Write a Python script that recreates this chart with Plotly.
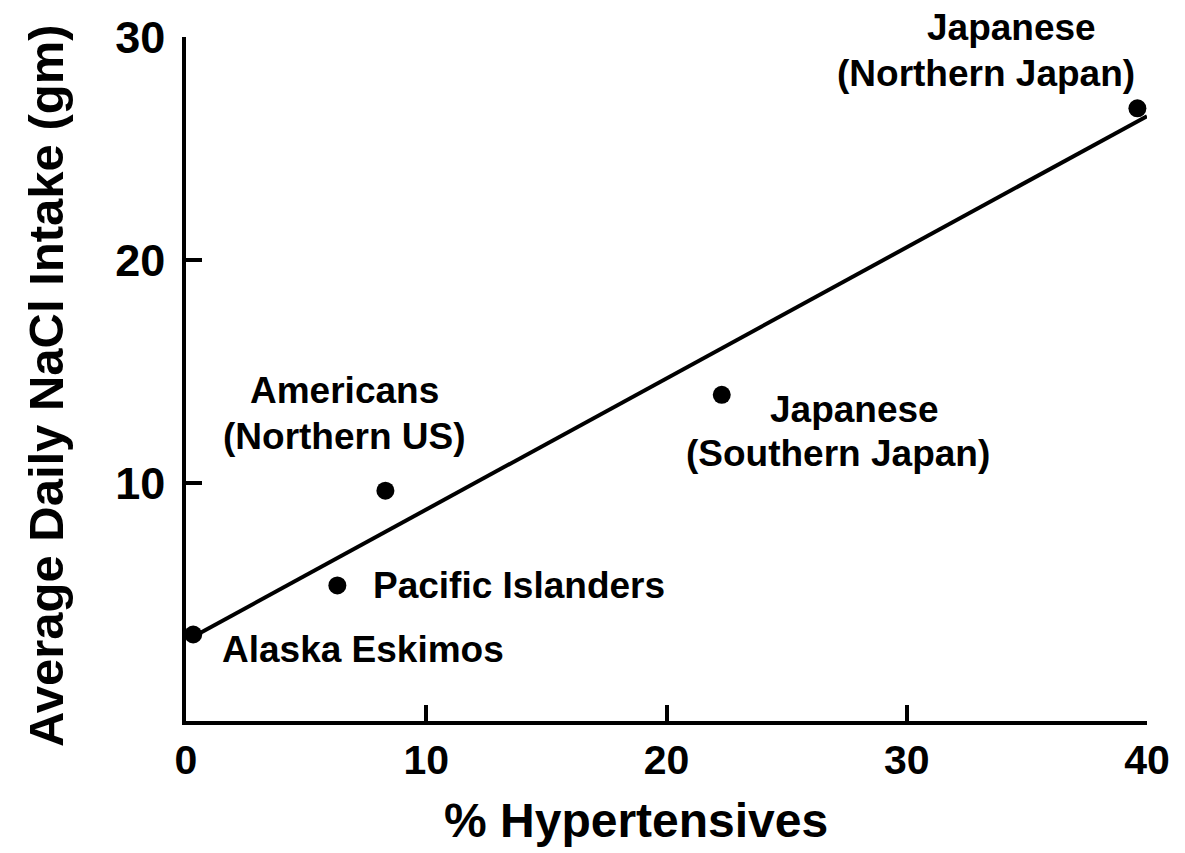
import plotly.graph_objects as go

# Population groups: % hypertensive vs. average daily salt intake
groups = ["Alaska Eskimos", "Pacific Islanders", "Americans<br>(Northern US)",
          "Japanese<br>(Southern Japan)", "Japanese<br>(Northern Japan)"]
pct_hypertensive = [0.3, 6.3, 8.3, 22.3, 39.6]
nacl_intake_gm = [3.2, 5.4, 9.65, 13.95, 26.8]

# Fitted trend line endpoints
fit_x = [0.3, 40.0]
fit_y = [3.1, 26.45]

x_ticks = [0, 10, 20, 30, 40]
y_ticks = [10, 20, 30]

# Per-line label offsets from each point, in pixels: (dx, dy) for each text line
label_offsets = [
    [(27, -15)],
    [(34, 0)],
    [(-41, 100), (-41, 54)],
    [(133, -15), (116, -59)],
    [(-126, 81), (-151, 35)],
]
label_xanchor = ["left", "left", "center", "center", "center"]

FONT = "Liberation Sans, Arial, Helvetica, sans-serif"

fig = go.Figure()
fig.add_trace(go.Scatter(x=fit_x, y=fit_y, mode="lines",
                         line=dict(color="black", width=4),
                         showlegend=False, hoverinfo="skip"))
fig.add_trace(go.Scatter(x=pct_hypertensive, y=nacl_intake_gm, mode="markers",
                         marker=dict(color="black", size=18),
                         showlegend=False, cliponaxis=False))

for name, x, y, offs, xa in zip(groups, pct_hypertensive, nacl_intake_gm,
                                label_offsets, label_xanchor):
    for line, (dx, dy) in zip(name.split("<br>"), offs):
        fig.add_annotation(x=x, y=y, text=line, showarrow=False,
                           xshift=dx, yshift=dy, xanchor=xa, yanchor="middle",
                           font=dict(family=FONT, size=37, color="black", weight="bold"))

# Axis titles
fig.add_annotation(text="% Hypertensives", xref="paper", yref="paper",
                   x=0.4683, y=-0.146, xanchor="center", yanchor="middle",
                   showarrow=False,
                   font=dict(family=FONT, size=48, color="black", weight="bold"))
fig.add_annotation(text="Average Daily NaCl Intake (gm)", xref="paper", yref="paper",
                   x=-0.1457, y=0.4913, xanchor="center", yanchor="middle",
                   textangle=-90, showarrow=False,
                   font=dict(family=FONT, size=49, color="black", weight="bold"))

axis_common = dict(showline=True, linecolor="black", linewidth=3.5,
                   ticks="inside", ticklen=16, tickwidth=3.5, tickcolor="black",
                   showgrid=False, zeroline=False)

fig.update_layout(
    width=1185, height=853,
    margin=dict(l=186, r=38, t=33, b=132),
    plot_bgcolor="white", paper_bgcolor="white",
    xaxis=dict(range=[0, 40], tickvals=x_ticks, ticktext=[str(v) for v in x_ticks],
               tickfont=dict(family=FONT, size=41, color="black", weight="bold"),
               **axis_common),
    yaxis=dict(range=[-0.68, 30], tickvals=y_ticks, ticktext=[str(v) for v in y_ticks],
               tickfont=dict(family=FONT, size=45, color="black", weight="bold"),
               ticklabelstandoff=8,
               **axis_common),
)

fig.write_html("out.html")
